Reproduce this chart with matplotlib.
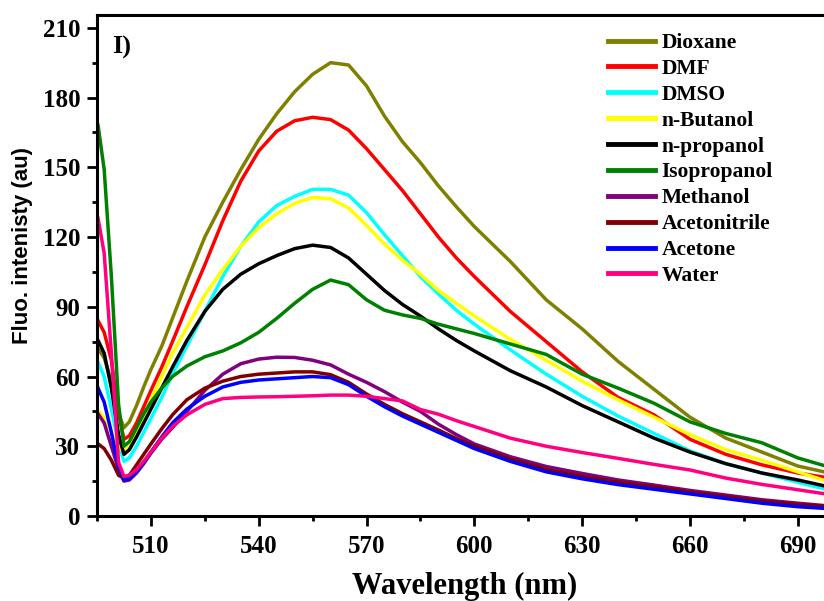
import matplotlib
matplotlib.use('Agg')
import matplotlib.pyplot as plt
import matplotlib.ticker as tick

plt.rcParams['font.family'] = ['Liberation Serif', 'DejaVu Serif']
plt.rcParams['font.weight'] = 'bold'

# 波長 (nm)
wl = [495.3, 497, 499, 501, 502.5, 504, 506, 508, 510, 513, 516, 520, 525, 530, 535, 540,
      545, 550, 555, 560, 565, 570, 575, 580, 585, 590, 595, 600, 610, 620, 630, 640,
      650, 660, 670, 680, 690, 697.3]

# 各溶媒の蛍光強度
dioxane = [72, 68, 58, 44, 38, 40.5, 47.5, 55.5, 63, 73, 85, 101, 120, 135, 149, 162,
           173, 182.5, 190, 195, 194, 185, 172, 161, 152, 142, 133, 124.5, 109.5, 93, 80.5, 66.5,
           54.5, 42.5, 33.5, 27.5, 21.5, 19]
dmf = [84, 79, 67, 44, 33, 34.5, 40, 47, 54, 64, 75, 90, 108, 127, 144, 157,
       165.5, 170, 171.5, 170.5, 166, 158, 149, 140, 130, 120, 111, 103, 88, 75, 62, 51,
       43.5, 33, 26.5, 22, 18.5, 16.7]
dmso = [66, 60, 46, 31, 23.5, 25, 30, 36, 42, 51, 61, 73, 88, 103, 116, 126.5,
        133.5, 137.5, 140.5, 140.5, 138, 130.5, 121, 112, 103, 95.5, 88.5, 82.5, 71.5, 61, 51.5, 43,
        35.5, 28, 22.5, 18.5, 14.5, 11.7]
butanol = [45.5, 42, 36, 30, 27.5, 30, 36, 43, 50, 60, 70, 81, 95, 106, 116, 124,
           130, 134.5, 137, 136.5, 132.5, 125, 117, 110, 104, 97, 91.5, 86, 76, 67, 58, 50,
           42.5, 35, 28.5, 24, 19, 15.3]
propanol = [75.5, 70, 55, 35, 26.5, 28.5, 34, 40, 46, 55, 64, 75.5, 88, 97.5, 104, 108.5,
            112, 115, 116.5, 115.5, 111, 104, 97, 91, 86, 80.5, 75.5, 71, 62.5, 55.5, 47.5, 40.5,
            33.5, 27.5, 22.5, 18.5, 15.5, 13]
isopropanol = [168, 149, 103, 48, 30, 32, 38, 44, 49, 55, 60, 64.5, 68.5, 71, 74.5, 79,
               85, 91.5, 97.5, 101.5, 99.5, 93, 88.5, 86.5, 85, 82.5, 80.5, 78.5, 74, 69.5, 61, 55,
               48.5, 40.5, 35.5, 31.5, 25, 21.7]
methanol = [44, 40, 30, 20, 15, 15.5, 18.5, 22.5, 27, 33, 38, 45, 54, 61, 65.5, 67.5,
            68.3, 68.2, 67, 65, 61, 57.5, 53.5, 49, 45, 39.5, 35, 31, 25.5, 21.3, 18.3, 15.5,
            13.3, 11, 9, 7, 5.5, 4.5]
acetonitrile = [31, 29, 24, 17.5, 16.3, 17.5, 22, 26.5, 31, 37.5, 43.5, 50, 55, 58, 60, 61,
                61.5, 62, 62, 60.8, 57.5, 52.5, 48, 44, 40.5, 37, 33.3, 30, 24.5, 20, 17, 14.5,
                12.5, 10.3, 8.3, 6.3, 5, 4.2]
acetone = [55, 49, 36, 21, 15.5, 16, 19, 23, 27.5, 34, 40, 46, 51.5, 55.5, 57.5, 58.5,
           59, 59.5, 60, 59.5, 56.5, 51.5, 47, 43, 39.5, 36, 32.5, 29, 23.5, 19, 16, 13.5,
           11.5, 9.5, 7.5, 5.5, 4, 3.3]
water = [128, 113, 70, 23, 17, 17.5, 20, 23.5, 27.5, 33.5, 38.5, 43.5, 48, 50.5, 51, 51.2,
         51.3, 51.5, 51.7, 52, 52, 51.5, 50.5, 49.5, 45.8, 43.8, 41, 38.5, 33.5, 30, 27.3, 24.8,
         22.2, 19.8, 16.3, 13.6, 11.3, 9.6]

labels = ['Dioxane', 'DMF', 'DMSO', 'n-Butanol', 'n-propanol', 'Isopropanol',
          'Methanol', 'Acetonitrile', 'Acetone', 'Water']
series = [dioxane, dmf, dmso, butanol, propanol, isopropanol,
          methanol, acetonitrile, acetone, water]
colors = ['#808000', '#FF0000', '#00FFFF', '#FFFF00', '#000000', '#008000',
          '#800080', '#800000', '#0000FF', '#FF0080']

fig = plt.figure(figsize=(8.24, 6.01), dpi=100)
ax = fig.add_axes([97 / 824, 85 / 601, 727 / 824, 501 / 601])

for y, lab, c in zip(series, labels, colors):
    ax.plot(wl, y, color=c, lw=2.5, label=lab, solid_joinstyle='round')

ax.set_xlim(495, 697.3)
ax.set_ylim(0, 215.5)

ax.set_xticks([510, 540, 570, 600, 630, 660, 690])
ax.xaxis.set_minor_locator(tick.MultipleLocator(15))
ax.set_yticks(range(0, 211, 30))
ax.yaxis.set_minor_locator(tick.MultipleLocator(15))

ax.tick_params(which='major', direction='out', length=7, width=2, labelsize=18)
ax.tick_params(axis='x', which='major', pad=7)
ax.tick_params(axis='y', which='major', pad=5)
ax.tick_params(which='minor', direction='out', length=3.5, width=2)
for lab in ax.get_xticklabels() + ax.get_yticklabels():
    lab.set_fontweight('bold')

for s in ['left', 'bottom', 'top']:
    ax.spines[s].set_linewidth(2.2)
ax.spines['right'].set_visible(False)

ax.set_xlabel('Wavelength (nm)', fontsize=22, fontweight='bold')
ax.xaxis.set_label_coords(0.506, -0.14)
ax.xaxis.label.set_va('center')
ax.set_ylabel('Fluo. intenisty (au)', fontsize=16, fontweight='bold',
              family=['Liberation Sans', 'DejaVu Sans'])
ax.yaxis.set_label_coords(-0.103, 0.54)
ax.yaxis.label.set_va('center')

ax.text(0.021, 0.935, 'I)', transform=ax.transAxes, fontsize=19,
        fontweight='bold', va='center', ha='left')

leg = ax.legend(loc='upper left', bbox_to_anchor=(608 / 824, 1 - 33 / 601),
                bbox_transform=fig.transFigure, frameon=False, fontsize=15.5,
                handlelength=2.2, handletextpad=0.28, labelspacing=0.27,
                borderpad=0, borderaxespad=0)
for line in leg.get_lines():
    line.set_linewidth(3.5)
for t in leg.get_texts():
    t.set_fontweight('bold')

fig.savefig('out.png', dpi=100)
